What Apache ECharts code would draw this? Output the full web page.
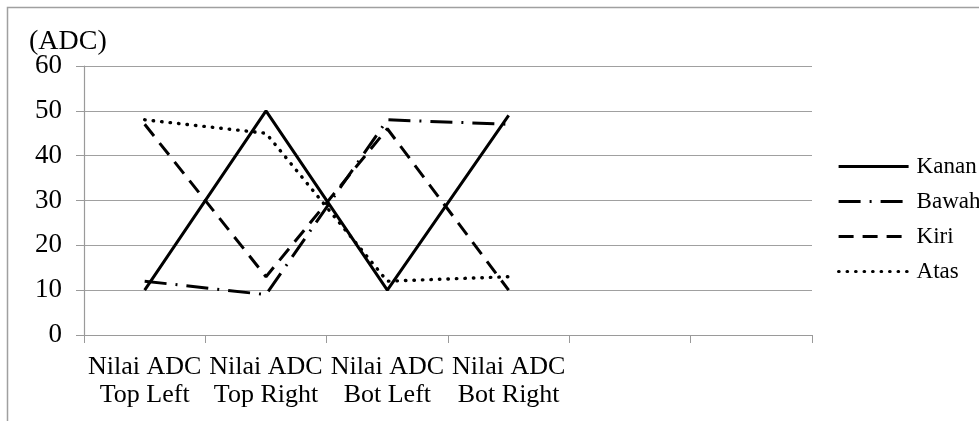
<!DOCTYPE html>
<html>
<head>
<meta charset="utf-8">
<script src="https://cdn.jsdelivr.net/npm/echarts@6/dist/echarts.min.js"></script>
<style>
  html, body { margin: 0; padding: 0; background: #fff; }
  #chart { width: 979px; height: 421px; }
</style>
</head>
<body>
<div id="chart"></div>
<script>
// Category slots on the x axis (the last two are left blank)
const categories = ['Nilai ADC\nTop Left', 'Nilai ADC\nTop Right', 'Nilai ADC\nBot Left', 'Nilai ADC\nBot Right', '', ''];

// ADC readings per sensor side
const kanan = [10, 50, 10, 49];
const bawah = [12, 9, 48, 47];
const kiri  = [47, 13, 46, 10];
const atas  = [48, 45, 12, 13];

const yTicks = { min: 0, max: 60, step: 10 };

const serif = "'Liberation Serif', 'Times New Roman', serif";

// Dash patterns shared by the lines and their legend keys
const dashes = {
  Kanan: { type: 'solid' },
  Bawah: { type: [22, 9, 2, 9] },
  Kiri:  { type: [15, 9] },
  Atas:  { type: [0.5, 8], cap: 'round' }
};

function lineSeries(name, data, width) {
  return {
    name: name,
    type: 'line',
    data: data,
    symbol: 'none',
    silent: true,
    animation: false,
    itemStyle: { color: '#000' },
    lineStyle: Object.assign({ color: '#000', width: width }, dashes[name])
  };
}

function legendItem(name) {
  return { name: name, lineStyle: Object.assign({ color: '#000', width: 3.2 }, dashes[name]) };
}

const chart = echarts.init(document.getElementById('chart'), null, { renderer: 'canvas' });

chart.setOption({
  backgroundColor: '#fff',
  animation: false,
  title: {
    text: '(ADC)',
    left: 24,
    top: 23,
    textStyle: { fontFamily: serif, fontSize: 28, fontWeight: 'normal', color: '#000' }
  },
  graphic: [{
    type: 'rect',
    shape: { x: 7.5, y: 7.5, width: 1200, height: 600 },
    style: { fill: 'none', stroke: '#a0a0a0', lineWidth: 1.5 },
    silent: true,
    z: -1
  }],
  grid: { left: 84, right: 167, top: 66, bottom: 86, containLabel: false },
  legend: {
    orient: 'vertical',
    left: 832,
    top: 150,
    itemWidth: 70,
    itemHeight: 20,
    itemGap: 12,
    itemStyle: { opacity: 0 },
    lineStyle: { width: 3.2 },
    textStyle: { fontFamily: serif, fontSize: 23, color: '#000', lineHeight: 20, padding: [0, 0, 0, 3] },
    data: ['Kanan', 'Bawah', 'Kiri', 'Atas'].map(legendItem)
  },
  xAxis: {
    type: 'category',
    data: categories,
    boundaryGap: true,
    axisLine: { lineStyle: { color: '#9a9a9a', width: 1.2 } },
    axisTick: { show: true, interval: 0, length: 8, lineStyle: { color: '#9a9a9a' } },
    axisLabel: {
      interval: 0,
      margin: 18,
      fontFamily: serif,
      fontSize: 26,
      lineHeight: 28,
      color: '#000'
    }
  },
  yAxis: {
    type: 'value',
    min: yTicks.min,
    max: yTicks.max,
    interval: yTicks.step,
    axisLine: { show: true, lineStyle: { color: '#9a9a9a', width: 1.2 } },
    axisTick: { show: true, length: 8, lineStyle: { color: '#9a9a9a' } },
    axisLabel: { margin: 22, fontFamily: serif, fontSize: 27, color: '#000' },
    splitLine: { lineStyle: { color: '#a0a0a0', width: 1.2 } }
  },
  series: [
    lineSeries('Kanan', kanan, 3),
    lineSeries('Bawah', bawah, 3),
    lineSeries('Kiri', kiri, 3),
    lineSeries('Atas', atas, 3.4)
  ]
});
</script>
</body>
</html>
